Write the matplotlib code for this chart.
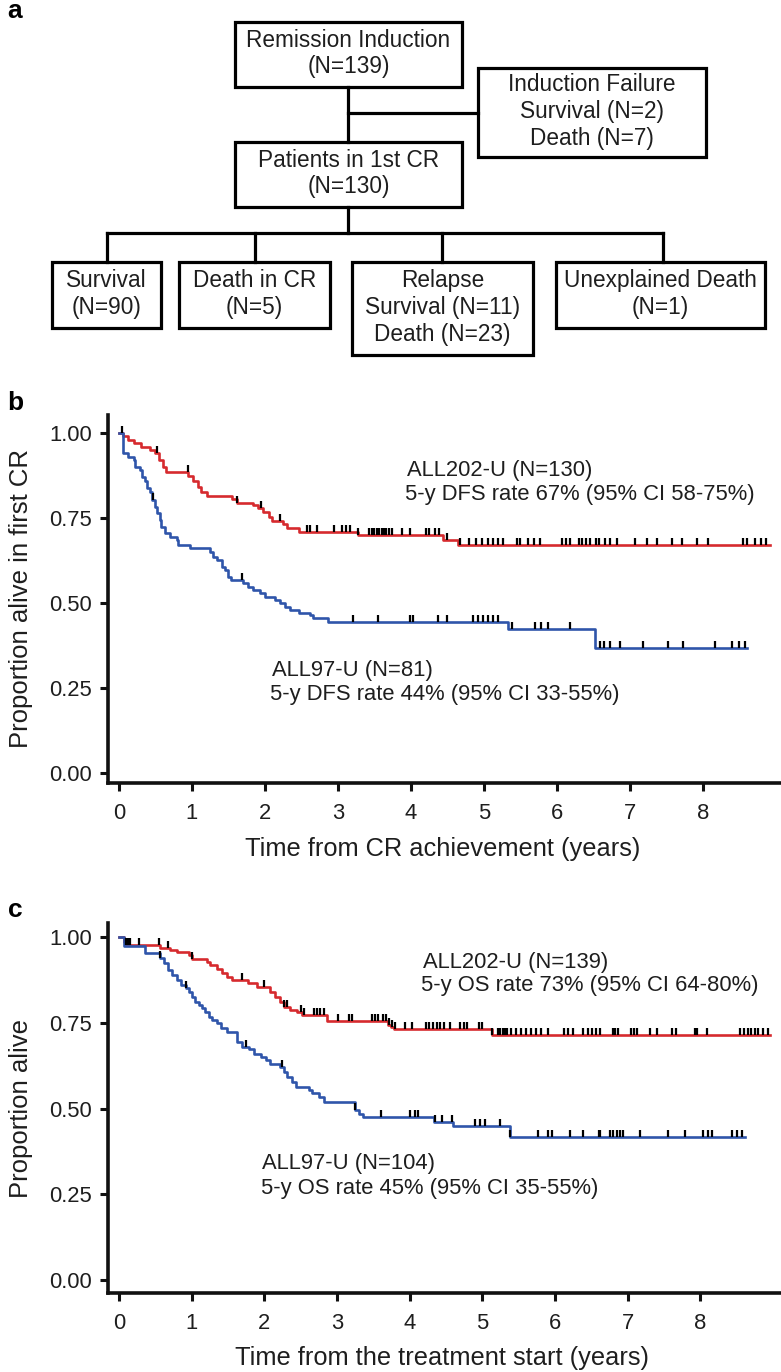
import matplotlib
matplotlib.use('Agg')
import matplotlib.pyplot as plt
from matplotlib.patches import Rectangle
from matplotlib.path import Path
import numpy as np

plt.rcParams['font.family'] = ['Liberation Sans', 'DejaVu Sans']

# ---------------- data ----------------
# panel a: flowchart boxes
flow_labels = [
    "Remission Induction\n(N=139)",
    "Induction Failure\nSurvival (N=2)\nDeath (N=7)",
    "Patients in 1st CR\n(N=130)",
    "Survival\n(N=90)",
    "Death in CR\n(N=5)",
    "Relapse\nSurvival (N=11)\nDeath (N=23)",
    "Unexplained Death\n(N=1)",
]

# panel b: disease-free survival (step times in years, survival after each step)
dfs_202_t = [0, 0.06, 0.12, 0.20, 0.30, 0.42, 0.50, 0.55, 0.60, 0.65, 0.95, 1.02, 1.08, 1.13, 1.20,
             1.55, 1.62, 1.84, 1.90, 1.98, 2.05, 2.10, 2.25, 2.30, 2.47, 3.27, 4.44, 4.64, 8.92]
dfs_202_s = [1.0, 0.99, 0.98, 0.97, 0.96, 0.95, 0.94, 0.92, 0.90, 0.885, 0.875, 0.86, 0.84, 0.826, 0.816,
             0.806, 0.795, 0.788, 0.779, 0.769, 0.754, 0.74, 0.733, 0.72, 0.71, 0.70, 0.685, 0.671, 0.671]
dfs_202_cens = [0.04, 0.52, 0.94, 1.62, 1.95, 2.2, 2.57, 2.62, 2.72, 2.95, 3.06, 3.11, 3.16, 3.27, 3.42,
                3.47, 3.5, 3.53, 3.56, 3.6, 3.63, 3.66, 3.7, 3.74, 3.88, 3.99, 4.2, 4.25, 4.33, 4.38, 4.5,
                4.67, 4.8, 4.89, 4.98, 5.06, 5.12, 5.19, 5.26, 5.45, 5.5, 5.6, 5.68, 5.77, 6.07, 6.12, 6.18,
                6.3, 6.35, 6.4, 6.46, 6.53, 6.57, 6.66, 6.73, 6.82, 7.07, 7.23, 7.37, 7.57, 7.71, 7.92,
                8.07, 8.55, 8.6, 8.71, 8.8, 8.87]

dfs_97_t = [0, 0.06, 0.13, 0.20, 0.22, 0.29, 0.31, 0.36, 0.38, 0.43, 0.45, 0.49, 0.52, 0.56, 0.58, 0.63,
            0.70, 0.79, 0.81, 0.97, 1.25, 1.29, 1.34, 1.41, 1.45, 1.50, 1.54, 1.70, 1.77, 1.84, 1.93,
            2.00, 2.14, 2.21, 2.27, 2.34, 2.46, 2.62, 2.66, 2.87, 5.33, 6.52, 8.60]
dfs_97_s = [1.0, 0.94, 0.93, 0.92, 0.90, 0.89, 0.87, 0.86, 0.837, 0.827, 0.803, 0.783, 0.764, 0.744,
            0.724, 0.705, 0.695, 0.685, 0.671, 0.661, 0.651, 0.636, 0.627, 0.607, 0.597, 0.578, 0.568,
            0.558, 0.548, 0.538, 0.529, 0.519, 0.509, 0.499, 0.489, 0.480, 0.470, 0.465, 0.455, 0.445,
            0.424, 0.368, 0.368]
dfs_97_cens = [0.47, 1.68, 3.21, 3.55, 3.99, 4.03, 4.37, 4.5, 4.85, 4.92, 4.99, 5.06, 5.12, 5.19, 5.38,
               5.7, 5.78, 5.88, 6.18, 6.59, 6.65, 6.73, 6.86, 7.18, 7.52, 7.73, 8.16, 8.4, 8.49, 8.58]

# panel c: overall survival
os_202_t = [0, 0.07, 0.09, 0.57, 0.70, 0.80, 0.96, 1.00, 1.21, 1.26, 1.35, 1.42, 1.49, 1.56, 1.78,
            1.90, 2.08, 2.15, 2.22, 2.27, 2.36, 2.45, 2.52, 2.86, 3.70, 3.75, 3.78, 5.13, 8.96]
os_202_s = [1.0, 0.985, 0.977, 0.967, 0.962, 0.957, 0.948, 0.935, 0.928, 0.918, 0.908, 0.894, 0.884,
            0.875, 0.865, 0.855, 0.841, 0.826, 0.811, 0.797, 0.787, 0.782, 0.772, 0.755, 0.745, 0.738,
            0.731, 0.714, 0.714]
os_202_cens = [0.1, 0.13, 0.15, 0.27, 0.55, 0.68, 1.0, 1.69, 2.0, 2.27, 2.31, 2.5, 2.54, 2.68, 2.72,
               2.77, 2.82, 3.02, 3.16, 3.21, 3.48, 3.53, 3.57, 3.63, 3.67, 3.72, 3.76, 3.8, 3.94, 4.03,
               4.22, 4.27, 4.32, 4.37, 4.42, 4.47, 4.56, 4.7, 4.75, 4.79, 4.95, 5.0, 5.14, 5.22, 5.25,
               5.28, 5.31, 5.34, 5.39, 5.46, 5.53, 5.6, 5.67, 5.74, 5.81, 5.9, 6.12, 6.18, 6.25, 6.38,
               6.46, 6.51, 6.56, 6.62, 6.8, 6.83, 6.87, 7.04, 7.09, 7.13, 7.31, 7.41, 7.61, 7.66, 7.93,
               7.96, 8.09, 8.55, 8.6, 8.65, 8.7, 8.75, 8.8, 8.86, 8.93]

os_97_t = [0, 0.07, 0.36, 0.57, 0.62, 0.68, 0.73, 0.80, 0.85, 0.92, 0.96, 1.01, 1.05, 1.10, 1.14, 1.19,
           1.24, 1.28, 1.35, 1.40, 1.49, 1.62, 1.69, 1.79, 1.86, 1.95, 2.02, 2.08, 2.22, 2.27, 2.31,
           2.38, 2.43, 2.61, 2.66, 2.75, 2.82, 3.25, 3.30, 3.36, 4.33, 4.60, 5.38, 8.62]
os_97_s = [1.0, 0.974, 0.953, 0.938, 0.923, 0.904, 0.889, 0.875, 0.86, 0.85, 0.84, 0.826, 0.811, 0.802,
           0.792, 0.782, 0.768, 0.758, 0.748, 0.734, 0.724, 0.694, 0.680, 0.675, 0.660, 0.651, 0.641,
           0.631, 0.622, 0.607, 0.593, 0.578, 0.564, 0.554, 0.544, 0.534, 0.520, 0.495, 0.485, 0.474,
           0.461, 0.449, 0.418, 0.418]
os_97_cens = [0.57, 0.93, 1.75, 2.24, 3.25, 3.6, 4.01, 4.07, 4.12, 4.35, 4.45, 4.59, 4.9, 4.97, 5.04,
              5.25, 5.38, 5.77, 5.91, 5.96, 6.21, 6.39, 6.6, 6.62, 6.76, 6.8, 6.85, 6.9, 6.94, 7.17,
              7.56, 7.79, 8.04, 8.1, 8.16, 8.44, 8.51, 8.58]

RED = '#d62a2e'
BLUE = '#2f55aa'
TXT = '#1e1e1e'

W, H = 781, 1372
fig = plt.figure(figsize=(W / 100, H / 100), dpi=100)

# ---------------- panel a: flowchart (pixel coordinates) ----------------
axa = fig.add_axes([0, 1 - 370 / H, 1, 370 / H])
axa.set_xlim(0, W)
axa.set_ylim(370, 0)
axa.axis('off')

boxes = [(235, 22, 462, 87), (478, 68, 706, 157), (235, 142, 462, 207),
         (52, 262, 161, 328), (179, 262, 330, 328), (352, 262, 533, 355), (556, 262, 765, 328)]
for (x0, y0, x1, y1), lab in zip(boxes, flow_labels):
    axa.add_patch(Rectangle((x0, y0), x1 - x0, y1 - y0, fill=False, lw=2.3, ec='black'))
    axa.text((x0 + x1) / 2, (y0 + y1) / 2 - 1, lab, ha='center', va='center',
             fontsize=16.3, color=TXT, linespacing=1.22)

lk = dict(color='black', lw=2.3, solid_capstyle='projecting')
axa.plot([348, 348], [87, 142], **lk)
axa.plot([348, 478], [113, 113], **lk)
axa.plot([348, 348], [207, 233], **lk)
axa.plot([107, 663], [233, 233], **lk)
for xc in [107, 255, 442, 663]:
    axa.plot([xc, xc], [233, 262], **lk)

# ---------------- KM panels ----------------
tick_mark = Path([(0, 0), (0, 1)])


def km(ax, t, s, cens, color):
    t = np.asarray(t)
    s = np.asarray(s)
    ax.step(t, s, where='post', color=color, lw=1.9, zorder=2)
    cens = np.asarray(cens)
    idx = np.searchsorted(t, cens, side='right') - 1
    ax.plot(cens, s[idx], ls='none', marker=tick_mark, ms=10, mew=1.6, color='black', zorder=3)


def style(ax, ylabel, xlabel, ytop, ybot, xr):
    ax.set_xlim(-0.15, xr)
    ax.set_ylim(ybot, ytop)
    for sp in ['top', 'right']:
        ax.spines[sp].set_visible(False)
    for sp in ['left', 'bottom']:
        ax.spines[sp].set_linewidth(2.6)
        ax.spines[sp].set_color('#111111')
    ax.set_xticks(range(0, 9))
    ax.set_yticks([0, 0.25, 0.5, 0.75, 1.0])
    ax.set_yticklabels(['0.00', '0.25', '0.50', '0.75', '1.00'])
    ax.tick_params(axis='both', direction='out', length=5.5, width=2.2, color='#111111',
                   labelsize=15.8, labelcolor=TXT)
    ax.tick_params(axis='y', pad=6)
    ax.tick_params(axis='x', pad=9)
    ax.set_ylabel(ylabel, fontsize=18.5, color=TXT)
    ax.set_xlabel(xlabel, fontsize=18.3, color=TXT)
    ax.yaxis.set_label_coords(-0.112, 0.5)


axb = fig.add_axes([108 / W, (H - 783) / H, 1 - 108 / W, (783 - 415) / H])
km(axb, dfs_202_t, dfs_202_s, dfs_202_cens, RED)
km(axb, dfs_97_t, dfs_97_s, dfs_97_cens, BLUE)
style(axb, 'Proportion alive in first CR', 'Time from CR achievement (years)', 1.053, -0.029, 9.07)
axb.xaxis.set_label_coords(0.497, -0.147)
axb.text(3.95, 0.891, 'ALL202-U (N=130)', fontsize=15.8, color=TXT, va='center')
axb.text(3.92, 0.818, '5-y DFS rate 67% (95% CI 58-75%)', fontsize=15.8, color=TXT, va='center')
axb.text(2.1, 0.303, 'ALL97-U (N=81)', fontsize=15.8, color=TXT, va='center')
axb.text(2.07, 0.232, '5-y DFS rate 44% (95% CI 33-55%)', fontsize=15.8, color=TXT, va='center')

axc = fig.add_axes([108 / W, (H - 1293) / H, 1 - 108 / W, (1293 - 923) / H])
km(axc, os_202_t, os_202_s, os_202_cens, RED)
km(axc, os_97_t, os_97_s, os_97_cens, BLUE)
style(axc, 'Proportion alive', 'Time from the treatment start (years)', 1.041, -0.038, 9.11)
axc.xaxis.set_label_coords(0.497, -0.143)
axc.text(4.18, 0.927, 'ALL202-U (N=139)', fontsize=15.8, color=TXT, va='center')
axc.text(4.15, 0.86, '5-y OS rate 73% (95% CI 64-80%)', fontsize=15.8, color=TXT, va='center')
axc.text(1.97, 0.341, 'ALL97-U (N=104)', fontsize=15.8, color=TXT, va='center')
axc.text(1.95, 0.268, '5-y OS rate 45% (95% CI 35-55%)', fontsize=15.8, color=TXT, va='center')

# panel letters
for lab, yp in [('a', 11), ('b', 403), ('c', 910)]:
    fig.text(15 / W, 1 - yp / H, lab, fontsize=19, fontweight='bold', ha='center', va='center')

fig.savefig('out.png', dpi=100)
